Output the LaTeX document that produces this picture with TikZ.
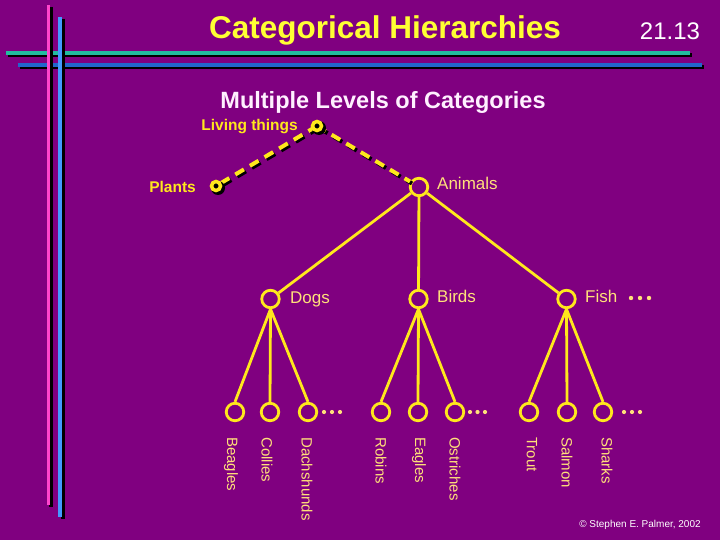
\documentclass[tikz,border=0pt]{standalone}
\usepackage{fontspec}
\setmainfont{Liberation Sans}
\definecolor{bg}{HTML}{800080}
\definecolor{treey}{HTML}{FFE81C}
\definecolor{labely}{HTML}{FFE07A}
\definecolor{titley}{HTML}{FFFF33}
\definecolor{pinkl}{HTML}{FF44CC}
\definecolor{bluev}{HTML}{4499FF}
\definecolor{blueh}{HTML}{2266CC}
\definecolor{tealh}{HTML}{22BBA0}
\definecolor{whitep}{HTML}{FFF0FF}
\begin{document}
\begin{tikzpicture}[x=1pt,y=-1pt,
  treeline/.style={draw=treey, line width=2.8pt},
  cnode/.style={circle, draw=treey, line width=2.8pt, minimum size=17.5pt, inner sep=0pt},
  snode/.style={circle, draw=treey, fill=black, line width=3.5pt, minimum size=9pt, inner sep=0pt},
  lab/.style={text=labely, font=\fontsize{17}{17}\selectfont, inner sep=0pt, anchor=west},
  blab/.style={text=treey, font=\bfseries\fontsize{15.5}{15.5}\selectfont, inner sep=0pt, anchor=east},
  leaflab/.style={text=labely, font=\fontsize{15}{15}\selectfont, rotate=-90, anchor=west, inner sep=0pt},
  dashl/.style={dash pattern=on 10pt off 7pt, line width=4pt},
  dotf/.style={fill=labely}
]
\fill[bg] (0,0) rectangle (720,540);
\useasboundingbox (0,0) rectangle (720,540);

% horizontal rules with shadows
\draw[black, line width=4pt] (8,55.5) -- (692,55.5);
\draw[tealh, line width=4pt] (6,53.5) -- (690,53.5);
\draw[black, line width=4pt] (20,67) -- (704,67);
\draw[blueh, line width=4pt] (18,65) -- (702,65);
% vertical rules with shadows
\draw[black, line width=3.5pt] (51,7) -- (51,507);
\draw[pinkl, line width=3.5pt] (48.5,5) -- (48.5,505);
\draw[black, line width=4pt] (62.5,19) -- (62.5,519);
\draw[bluev, line width=4pt] (60,17) -- (60,517);

% titles
\node[text=titley, font=\bfseries\fontsize{31.5}{31.5}\selectfont] (title) at (385,30) {Categorical Hierarchies};
\node[text=white, font=\fontsize{24}{24}\selectfont] (num) at (670,31) {21.13};
\node[text=whitep, font=\bfseries\fontsize{23.5}{23.5}\selectfont] (sub) at (383,102) {Multiple Levels of Categories};
\node[text=white, font=\fontsize{10}{10}\selectfont] (copy) at (640,525) {\textcopyright\ Stephen E. Palmer, 2002};

% nodes
\node[cnode] (Animals) at (419,187) {};
\node[cnode] (Dogs) at (270.5,299) {};
\node[cnode] (Birds) at (418.5,299) {};
\node[cnode] (Fish) at (566.5,299) {};

\node[cnode] (d1) at (235,412) {};
\node[cnode] (d2) at (270,412) {};
\node[cnode] (d3) at (308,412) {};
\node[cnode] (b1) at (381,412) {};
\node[cnode] (b2) at (418,412) {};
\node[cnode] (b3) at (455,412) {};
\node[cnode] (f1) at (529,412) {};
\node[cnode] (f2) at (567,412) {};
\node[cnode] (f3) at (603,412) {};

% dashed upper level with shadows
\coordinate (LTc) at (317,126);
\coordinate (Plc) at (216,186);
\coordinate (Anend) at (410,181.5);
\draw[black, dashl] (319,128) -- (218,188);
\draw[black, dashl] (319,128) -- (412,183.5);
\draw[treey, dashl] (LTc) -- (Plc);
\draw[treey, dashl] (LTc) -- (Anend);
\fill[black] (319,128) circle (7);
\fill[black] (218,188) circle (7);
\node[snode] (LT) at (LTc) {};
\node[snode] (Plants) at (Plc) {};

% tree connectors
\draw[treeline] (Animals) -- (Dogs);
\draw[treeline] (Animals) -- (Birds);
\draw[treeline] (Animals) -- (Fish);
\foreach \p/\c in {Dogs/d1, Dogs/d2, Dogs/d3, Birds/b1, Birds/b2, Birds/b3, Fish/f1, Fish/f2, Fish/f3}
  \draw[treeline] (\p.south) -- (\c.north);

% labels
\node[blab] (ltl) at (298,127) {Living things};
\node[blab] (pll) at (196,187) {Plants};
\node[lab] (anl) at (437,183) {Animals};
\node[lab] (dgl) at (290,299) {Dogs};
\node[lab] (brl) at (437,296) {Birds};
\node[lab] (fil) at (585,296) {Fish};
\foreach \x in {631,640,649} \fill[dotf] (\x,298) circle (2.2);
\foreach \x in {324,332,340,470,477.5,485,624,632,640} \fill[dotf] (\x,412) circle (2.1);

\node[leaflab] at (231,437) {Beagles};
\node[leaflab] at (267,437) {Collies};
\node[leaflab] at (307,437) {Dachshunds};
\node[leaflab] at (381,437) {Robins};
\node[leaflab] at (419,437) {Eagles};
\node[leaflab] at (455,437) {Ostriches};
\node[leaflab] at (532,437) {Trout};
\node[leaflab] at (567,437) {Salmon};
\node[leaflab] at (607,437) {Sharks};
\end{tikzpicture}
\end{document}
